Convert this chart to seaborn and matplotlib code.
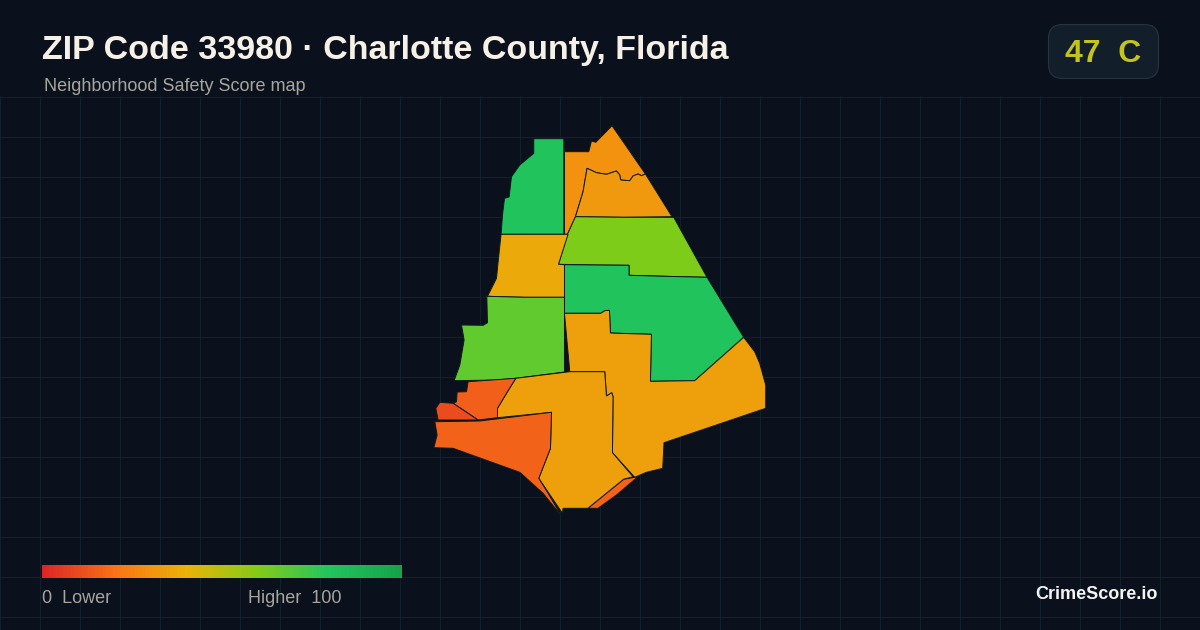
"""
ZIP 33980 neighborhood safety score map.
Output: out.png
"""

import matplotlib.pyplot as plt
from matplotlib.colors import LinearSegmentedColormap, Normalize
from matplotlib.patches import FancyBboxPatch
from matplotlib.transforms import Affine2D
import numpy as np
import seaborn as sns

BG = "#0a111c"
GRID = "#13202b"
EDGE = "#0e1a1c"

# score colour ramp (0, 20, 40, 60, 80, 100)
scale_colors = ["#dc2626", "#f97316", "#eab308", "#84cc16", "#22c55e", "#16a34a"]

region_scores = [81, 30, 32, 61, 81, 37, 67, 34, 34, 16, 16, 15, 10]

# neighborhood outlines in image pixels
region_x = [
    [534, 564, 564, 501.3, 502.7, 504.7, 509.3, 511.7, 520, 534],
    [564.7, 589, 591.7, 596, 612.3, 645.7, 641.7, 638.3, 633.3, 630, 621, 620, 616.7, 606.7, 596.7, 587.3, 583.3, 575.7, 567.7, 564.7],
    [587.3, 596.7, 606.7, 616.7, 620, 621, 630, 633.3, 638.3, 641.7, 645.7, 672.3, 624.3, 575.7, 583.3],
    [575.7, 624.3, 674, 707.3, 665, 629.3, 629.3, 596, 558.7, 567.7],
    [564.7, 596, 629.3, 629.3, 665, 707.3, 744, 695, 650.7, 651.7, 630.7, 610.7, 609.7, 605, 601, 564.7],
    [501.3, 568.3, 558.7, 564.7, 564.7, 525.3, 487.7, 496.7, 498.7, 500.3],
    [487, 525.3, 564.7, 564.7, 516, 496.7, 454.3, 460, 464.3, 461.7, 483.3, 487.7],
    [564.7, 601, 605, 609.7, 610.7, 630.7, 651.7, 650.7, 695, 744, 755, 760, 766, 766, 664.3, 663, 646.7, 635, 612.7, 613.3, 612, 606.7, 605, 570],
    [605, 606.7, 612, 613.3, 612.7, 633.3, 624, 588.3, 563.3, 562.7, 539, 550.7, 551.7, 497.7, 497.7, 506.7, 516, 570],
    [635, 624, 588.3, 598.3, 616.7, 638.3],
    [435, 480, 551.7, 550.7, 539, 548.3, 561.7, 543.3, 520, 453.3, 434, 437.3],
    [516, 506.7, 497.7, 497.7, 478.3, 453.3, 456.7, 457.3, 466.7, 468.3],
    [453.3, 478.3, 438.3, 436, 440],
]
region_y = [
    [138.7, 138.7, 234.3, 234.3, 215, 198.3, 197, 176.7, 165, 153.3],
    [151.7, 151.7, 141, 142.3, 125.7, 174, 175.7, 174, 176, 180.7, 180, 175, 171, 174.3, 172.7, 168.3, 191.7, 216.7, 234.3, 234.3],
    [168.3, 172.7, 174.3, 171, 175, 180, 180.7, 176, 174, 175.7, 174, 216.7, 217.3, 216.7, 191.7],
    [216.7, 217.3, 217.3, 277.3, 276.3, 275.3, 265.3, 265, 264.3, 234.3],
    [264.7, 265, 265.3, 275.3, 276.3, 277.3, 337.3, 380.7, 381.3, 334.3, 333.7, 333, 310.3, 310.7, 313.3, 313.3],
    [234.3, 234.3, 264.3, 264.7, 297.3, 297.3, 296.3, 278.3, 258.3, 243.3],
    [296.3, 297.3, 297.3, 372, 378.3, 380, 380.7, 365, 340, 325, 325.3, 322.7],
    [313.3, 313.3, 310.7, 310.3, 333, 333.7, 334.3, 381.3, 380.7, 337.3, 351.7, 363.3, 385, 408.3, 442.7, 468.3, 472.3, 477.3, 452.7, 396.7, 392.7, 396, 371.7, 371.7],
    [371.7, 396, 392.7, 396.7, 452.7, 476.7, 479.3, 508.3, 508.3, 513.3, 478.3, 448.3, 412.3, 417.7, 408.3, 393.3, 378.3, 371.7],
    [477.3, 479.3, 508.3, 508.3, 495, 476.7],
    [421.7, 421, 412.3, 448.3, 478.3, 493.3, 516, 493.3, 472.3, 448.3, 447.7, 435],
    [378.3, 393.3, 408.3, 417.7, 420, 403.3, 401.7, 392, 391.7, 381.7],
    [403.3, 420, 420, 408.3, 402.3],
]

title_text = "ZIP Code 33980 · Charlotte County, Florida"
subtitle_text = "Neighborhood Safety Score map"
badge_text = "47  C"
low_text = "0  Lower"
high_text = "Higher  100"
brand_text = "CrimeScore.io"


def px(x, y):
    return x / 1200, 1 - y / 630


sns.set_theme(style="white", rc={"figure.facecolor": BG, "axes.facecolor": BG})
plt.rcParams["font.family"] = ["Liberation Sans", "DejaVu Sans"]

cmap = LinearSegmentedColormap.from_list("score", sns.color_palette(scale_colors))
norm = Normalize(0, 100)

fig = plt.figure(figsize=(12, 6.3), dpi=100)

# map axes: grid only starts below the header
ax = fig.add_axes([0, 0, 1, (630 - 96) / 630])
ax.set_xlim(0, 1200)
ax.set_ylim(630, 96)
ax.set_xticks(np.arange(0, 1201, 40) + 0.5)
ax.set_yticks(np.arange(96, 630, 40) + 0.5)
ax.tick_params(length=0, labelbottom=False, labelleft=False)
ax.grid(True, color=GRID, linewidth=0.8)
ax.set_axisbelow(True)
sns.despine(ax=ax, left=True, bottom=True)

for xs, ys, score in zip(region_x, region_y, region_scores):
    ax.fill(xs, ys, facecolor=cmap(norm(score)), edgecolor=EDGE, linewidth=0.7, clip_on=False)

# legend bar
bar_left, bar_bottom = px(42, 578)
cax = fig.add_axes([bar_left, bar_bottom, 360 / 1200, 13 / 630])
sns.heatmap(np.arange(0, 101).reshape(1, -1), ax=cax, cmap=cmap, vmin=0, vmax=100, cbar=False,
            xticklabels=False, yticklabels=False, linewidths=0, rasterized=True)

# score badge, drawn in image pixels
badge = FancyBboxPatch((1060.5, 36.5), 86, 30, boxstyle="round,pad=12,rounding_size=14",
                       facecolor="#131e2b", edgecolor="#273340", linewidth=0.8,
                       transform=Affine2D().scale(1, -1).translate(0, 630), zorder=1)
fig.add_artist(badge)

fig.text(*px(42, 59), title_text, fontsize=24.5, fontweight="bold", color="#f7f0e6", va="baseline")
fig.text(*px(44, 91), subtitle_text, fontsize=13, color="#a8a59c", va="baseline")
fig.text(*px(1065, 62), badge_text, fontsize=23, fontweight="bold", color="#c4c41c", va="baseline", zorder=3)
fig.text(*px(42, 603), low_text, fontsize=13, color="#a8a59c", va="baseline")
fig.text(*px(342, 603), high_text, fontsize=13, color="#a8a59c", va="baseline", ha="right")
fig.text(*px(1158, 599), brand_text, fontsize=13, fontweight="bold", color="#f5f5f5", va="baseline", ha="right")

fig.savefig("out.png", dpi=100, facecolor=BG)
plt.close(fig)
